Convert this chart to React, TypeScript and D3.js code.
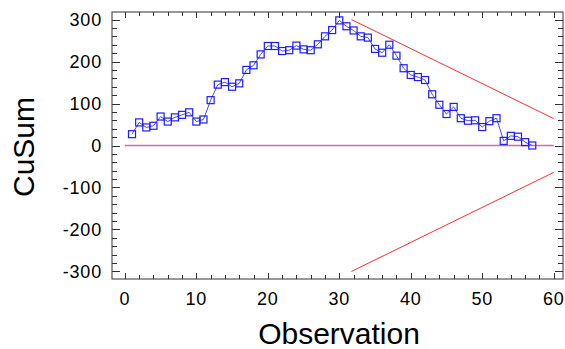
import React from 'react';
import * as d3 from 'd3';

// CuSum values per observation (1..57)
const cusum = [
  27, 55, 43, 47, 69, 57, 67, 73, 79, 57,
  62, 108, 145, 151, 140, 148, 180, 191, 217, 237,
  237, 225, 227, 238, 229, 227, 241, 260, 275, 298,
  284, 274, 260, 257, 230, 221, 240, 214, 184, 168,
  163, 156, 122, 97, 75, 92, 65, 59, 60, 44,
  58, 65, 11, 23, 21, 8, 0,
];
const observations = cusum.map((_, i) => i + 1);

// V-mask arms
const maskX = [31.7, 60];
const maskUpper = [300, 64];
const maskLower = [-300, -64];

const centerX = [0, 60];
const centerY = [0, 0];

const xTickLabels = [0, 10, 20, 30, 40, 50, 60];
const yTickLabels = [-300, -200, -100, 0, 100, 200, 300];

const W = 565;
const H = 349;
const left = 112, right = 563, top = 12, bottom = 279;
const font = '"Liberation Sans", Arial, sans-serif';

export default function App() {
  const x = d3.scaleLinear().domain([-1.8, 61.3]).range([left, right]);
  const y = d3.scaleLinear().domain([-318, 318]).range([bottom, top]);

  const line = d3.line<number>().x((_, i) => x(observations[i])).y((d) => y(d));
  const pairLine = (xs: number[], ys: number[]) =>
    d3.line<number>().x((_, i) => x(xs[i])).y((d) => y(d))(ys) as string;

  const xMinor = d3.range(0, 61, 2);
  const yMinor = d3.range(-300, 301, 20);

  return (
    <svg width={W} height={H} style={{ position: 'absolute', left: 0, top: 0, background: '#fff' }}>
      {/* frame */}
      <rect x={left} y={top} width={right - left} height={bottom - top} fill="none" stroke="#333" strokeWidth={1} />
      {/* x ticks top and bottom */}
      {xMinor.map((t) => {
        const major = t % 10 === 0;
        const len = major ? 6 : 4;
        const px = Math.round(x(t)) + 0.5;
        return (
          <g key={'xt' + t} stroke="#333" strokeWidth={1}>
            <line x1={px} x2={px} y1={top} y2={top + len} />
            <line x1={px} x2={px} y1={bottom} y2={bottom - len} />
          </g>
        );
      })}
      {/* y ticks left and right */}
      {yMinor.map((t) => {
        const major = t % 100 === 0;
        const len = major ? 8 : 5;
        const py = Math.round(y(t)) + 0.5;
        return (
          <g key={'yt' + t} stroke="#333" strokeWidth={1}>
            <line x1={left} x2={left + len} y1={py} y2={py} />
            <line x1={right} x2={right - len} y1={py} y2={py} />
          </g>
        );
      })}
      {/* tick labels */}
      {yTickLabels.map((t) => (
        <text key={'yl' + t} x={102} y={y(t)} dy="0.36em" textAnchor="end"
          fontFamily={font} fontSize={18} letterSpacing={0.8} fill="#000">{t}</text>
      ))}
      {xTickLabels.map((t) => (
        <text key={'xl' + t} x={x(t)} y={305} textAnchor="middle"
          fontFamily={font} fontSize={18} letterSpacing={0.8} fill="#000">{t}</text>
      ))}
      {/* axis titles */}
      <text x={339} y={344} textAnchor="middle" fontFamily={font} fontSize={30} fill="#000">Observation</text>
      <text transform={`translate(34,147) rotate(-90)`} textAnchor="middle" fontFamily={font} fontSize={30} fill="#000">CuSum</text>
      {/* center line */}
      <path d={pairLine(centerX, centerY)} stroke="#d0709a" strokeWidth={1.5} fill="none" />
      {/* V-mask */}
      <path d={pairLine(maskX, maskUpper)} stroke="#ff3030" strokeWidth={1} fill="none" />
      <path d={pairLine(maskX, maskLower)} stroke="#ff3030" strokeWidth={1} fill="none" />
      {/* series */}
      <path d={line(cusum) as string} stroke="#4a4aff" strokeWidth={1} fill="none" />
      {cusum.map((v, i) => (
        <rect key={'m' + i} x={x(observations[i]) - 3.5} y={y(v) - 3.5} width={7} height={7}
          fill="none" stroke="#1c1cff" strokeWidth={1.2} />
      ))}
    </svg>
  );
}
